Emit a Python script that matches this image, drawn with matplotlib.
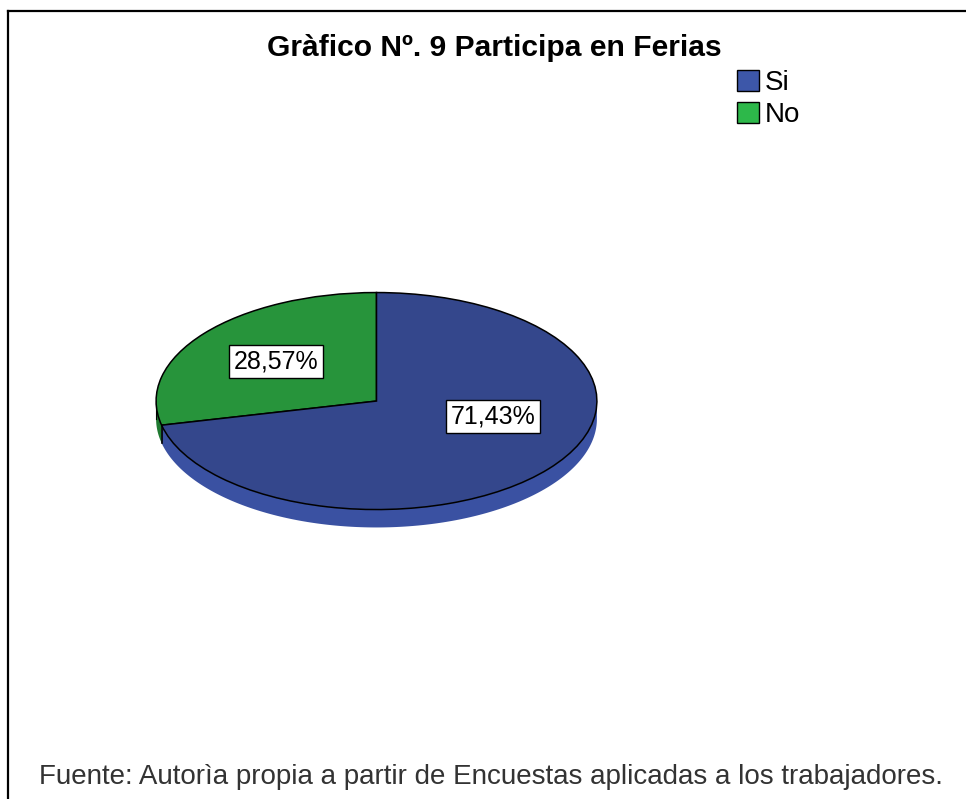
import numpy as np
import matplotlib
matplotlib.use("Agg")
import matplotlib.pyplot as plt
from matplotlib.patches import Patch, Polygon

plt.rcParams['font.family'] = ['Liberation Sans', 'DejaVu Sans']

# ---- data ----
categories = ["No", "Si"]          # drawing order (from 12 o'clock, counter-clockwise)
percentages = [28.57, 71.43]
legend_order = ["Si", "No"]
title = "Gràfico Nº. 9 Participa en Ferias"
footer = "Fuente: Autorìa propia a partir de Encuestas aplicadas a los trabajadores."

top_colors = {"Si": "#34478c", "No": "#27943b"}
side_colors = {"Si": "#3a51a2", "No": "#1f7a31"}
legend_colors = {"Si": "#3d57a9", "No": "#2db84a"}

W, H = 966, 799
fig = plt.figure(figsize=(W / 100, H / 100), dpi=100)

# frame lines (top and left)
fig.add_artist(plt.Line2D([8 / W, 1], [1 - 11 / H, 1 - 11 / H], color="black", lw=1.6))
fig.add_artist(plt.Line2D([8 / W, 8 / W], [1 - 11 / H, 0], color="black", lw=1.6))

# pie axes: top face ellipse x 155..598, y 292..510, depth to 528
depth = 0.165
x0, x1 = 155, 598
y_top, y_bot = 292, 528
ax = fig.add_axes([x0 / W, 1 - y_bot / H, (x1 - x0) / W, (y_bot - y_top) / H])

# side band (visible front half) drawn first
starts = 90 + 360 * np.concatenate([[0], np.cumsum(percentages)[:-1]]) / 100.0
ends = starts + 360 * np.array(percentages) / 100.0
for cat, a0, a1 in zip(categories, starts, ends):
    for lo, hi in [(a0, a1), (a0 - 360, a1 - 360), (a0 + 360, a1 + 360)]:
        s = max(lo, 180)
        e = min(hi, 360)
        if e > s:
            th = np.radians(np.linspace(s, e, 200))
            xs = np.cos(th)
            ys = np.sin(th)
            pts = np.concatenate([np.column_stack([xs, ys]),
                                  np.column_stack([xs[::-1], ys[::-1] - depth])])
            ax.add_patch(Polygon(pts, closed=True, facecolor=side_colors[cat],
                                 edgecolor="none", zorder=1))
# black edge on side at slice boundary
for a in ends:
    aa = a % 360
    if 180 < aa < 360:
        xb, yb = np.cos(np.radians(aa)), np.sin(np.radians(aa))
        ax.plot([xb, xb], [yb, yb - depth], color="black", lw=1.2, zorder=2)
# left side edge
ax.plot([-1, -1], [0, -depth], color="black", lw=0.8, zorder=2)

wedges, _ = ax.pie(percentages, colors=[top_colors[c] for c in categories],
                   startangle=90, counterclock=True, radius=1.0,
                   wedgeprops=dict(edgecolor="black", linewidth=1.1, zorder=3))
ax.set_xlim(-1.005, 1.005)
ax.set_ylim(-1 - depth - 0.005, 1.005)
ax.set_aspect("auto")
ax.axis("off")

# value labels
label_pos = {"No": (-0.457, 0.36), "Si": (0.529, -0.147)}
for cat, p in zip(categories, percentages):
    txt = f"{p:.2f}%".replace(".", ",")
    ax.text(*label_pos[cat], txt, ha="center", va="center", fontsize=18,
            zorder=5,
            bbox=dict(boxstyle="square,pad=0.18", facecolor="white",
                      edgecolor="black", linewidth=1.0))

# title
fig.text(494 / W, 1 - 48 / H, title, ha="center", va="center",
         fontsize=21.6, fontweight="bold")

# legend
handles = [Patch(facecolor=legend_colors[c], edgecolor="black", linewidth=1.0)
           for c in legend_order]
leg = fig.legend(handles, legend_order, loc="upper left",
                 bbox_to_anchor=(734 / W, 1 - 67 / H), frameon=False,
                 fontsize=20, handlelength=0.8, handleheight=0.8,
                 handletextpad=0.2, labelspacing=0.22, borderpad=0.1,
                 borderaxespad=0)

# footer
fig.text(491 / W, 1 - 777 / H, footer, ha="center", va="center",
         fontsize=20, color="#333333")

fig.savefig("out.png", dpi=100)
